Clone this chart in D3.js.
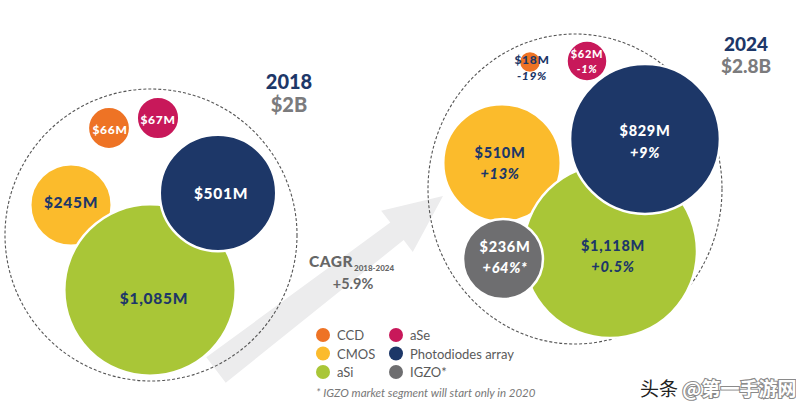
<!DOCTYPE html>
<html><head><meta charset="utf-8">
<script src="https://cdn.jsdelivr.net/npm/d3@7/dist/d3.min.js"></script>
<style>
html,body{margin:0;padding:0;background:#fff;}
svg{display:block;font-family:Lato,"Open Sans",sans-serif;}
</style></head>
<body>
<svg id="chart" width="796" height="409"></svg>
<script>
// ---------- DATA ----------
const categories = ["CCD", "aSe", "CMOS", "Photodiodes array", "aSi", "IGZO*"];
const values2018 = [66, 67, 245, 501, 1085, null];
const values2024 = [18, 62, 510, 829, 1118, 236];
const growth2024 = ["-19%", "-1%", "+13%", "+9%", "+0.5%", "+64%*"];
const years = ["2018", "2024"];
const totals = ["$2B", "$2.8B"];
const cagrLabel = "CAGR";
const cagrPeriod = "2018-2024";
const cagrValue = "+5.9%";
const footnote = "* IGZO market segment will start only in 2020";

// ---------- STYLE / LAYOUT ----------
const colors = ["#ee7325", "#c8185a", "#fbbb2c", "#1d3768", "#a9c637", "#6e6e70"];
const labelColors2018 = ["#fff", "#fff", "#1d3768", "#fff", "#1d3768", "#fff"];
const labelColors2024 = ["#1d3768", "#fff", "#1d3768", "#fff", "#1d3768", "#fff"];
const drawOrder = [0, 1, 2, 4, 3, 5];
const groups = [
  {cx: 151, cy: 235, rx: 146, ry: 146,
   off: [[-42,-107],[7,-117],[-80,-30],[67,-42],[-1,55],null],
   lab: [[1,1],[0,1],[0,-3],[3,0],[4,8],null],
   fs:  [12,12,15.5,15.5,15.5,15],
   title: {x: 289, y1: 89, y2: 112, fs: 20}},
  {cx: 575, cy: 189, rx: 147, ry: 155,
   off: [[-45,-127],[12,-128],[-73,-26],[70,-50],[35,62],[-72,70]],
   lab: [[2,5],[0,0],[-2,0],[0,2],[3,5],[2,-2]],
   fs:  [12,11,14.5,14.5,14.5,14.5],
   gap: [16,15,21,22,21,21],
   title: {x: 746, y1: 51, y2: 73, fs: 19}}
];

const svg = d3.select("#chart");
const r = d3.scaleSqrt().domain([0, d3.max(values2024)]).range([0, 87]);
const fmt = v => "$" + d3.format(",")(v) + "M";

// ---------- ARROW (behind) ----------
const tail = [216, 370], tip = [443, 196];
const ang = Math.atan2(tip[1] - tail[1], tip[0] - tail[0]);
const len = Math.hypot(tip[0] - tail[0], tip[1] - tail[1]);
const headLen = 58, bodyW0 = 16, bodyW1 = 11, headW = 26;
const local = [[0,-bodyW0],[len-headLen,-bodyW1],[len-headLen,-headW],[len,0],[len-headLen,headW],[len-headLen,bodyW1],[0,bodyW0]];
const pts = local.map(([u,v]) => [tail[0] + u*Math.cos(ang) - v*Math.sin(ang), tail[1] + u*Math.sin(ang) + v*Math.cos(ang)]);
svg.append("path").attr("d", d3.line()(pts) + "Z").attr("fill", "#ececed");

// ---------- GROUPS ----------
const valueSets = [values2018, values2024];
groups.forEach((g, gi) => {
  const vals = valueSets[gi];
  svg.append("ellipse").attr("cx", g.cx).attr("cy", g.cy).attr("rx", g.rx).attr("ry", g.ry)
    .attr("fill", "none").attr("stroke", "#555").attr("stroke-width", 1.1).attr("stroke-dasharray", "3,2");

  const items = drawOrder.filter(i => vals[i] != null).map(i => ({
    i, v: vals[i], x: g.cx + g.off[i][0], y: g.cy + g.off[i][1]
  }));
  const gg = svg.append("g");
  gg.selectAll("circle").data(items).join("circle")
    .attr("cx", d => d.x).attr("cy", d => d.y).attr("r", d => r(d.v))
    .attr("fill", d => colors[d.i]).attr("stroke", "#fff").attr("stroke-width", 2.5);

  const lc = gi === 0 ? labelColors2018 : labelColors2024;
  items.forEach(d => {
    const lx = d.x + g.lab[d.i][0], ly = d.y + g.lab[d.i][1];
    const t = svg.append("text").attr("text-anchor", "middle").attr("fill", lc[d.i])
      .attr("font-weight", 900).attr("font-size", g.fs[d.i]).attr("letter-spacing", 0.7);
    if (gi === 0) {
      t.attr("x", lx).attr("y", ly).attr("dominant-baseline", "central").text(fmt(d.v));
    } else {
      const gap = g.gap[d.i];
      t.append("tspan").attr("x", lx).attr("y", ly - gap/2).attr("dominant-baseline", "central").text(fmt(d.v));
      t.append("tspan").attr("x", lx).attr("y", ly + gap/2).attr("dominant-baseline", "central")
        .attr("font-style", "italic").text(growth2024[d.i]);
    }
  });

  svg.append("text").attr("x", g.title.x).attr("y", g.title.y1).attr("text-anchor", "middle")
    .attr("font-weight", 900).attr("font-size", g.title.fs).attr("fill", "#1d3768").text(years[gi]);
  svg.append("text").attr("x", g.title.x).attr("y", g.title.y2).attr("text-anchor", "middle")
    .attr("font-weight", 900).attr("font-size", g.title.fs).attr("fill", "#7b7b7d").text(totals[gi]);
});

// ---------- CAGR ----------
const cg = svg.append("text").attr("x", 309).attr("y", 267).attr("fill", "#666").attr("font-weight", 900);
cg.append("tspan").attr("font-size", 15.5).attr("letter-spacing", 0.5).text(cagrLabel);
cg.append("tspan").attr("font-size", 8).attr("dy", 4).attr("dx", 1).text(cagrPeriod);
svg.append("text").attr("x", 353).attr("y", 289).attr("text-anchor", "middle").attr("fill", "#666")
  .attr("font-weight", 700).attr("font-size", 14.5).text(cagrValue);

// ---------- LEGEND ----------
const legendCols = [[0, 2, 4], [1, 3, 5]];
const colX = d3.scalePoint().domain([0, 1]).range([323, 396]);
const rowY = d3.scalePoint().domain([0, 1, 2]).range([335, 372]);
legendCols.forEach((col, ci) => {
  col.forEach((idx, ri) => {
    svg.append("circle").attr("cx", colX(ci)).attr("cy", rowY(ri)).attr("r", 7).attr("fill", colors[idx]);
    svg.append("text").attr("x", colX(ci) + 14).attr("y", rowY(ri)).attr("dominant-baseline", "central")
      .attr("font-size", 13).attr("fill", "#5a5a5a").text(categories[idx]);
  });
});
svg.append("text").attr("x", 316).attr("y", 397).attr("font-size", 11.5).attr("font-style", "italic")
  .attr("fill", "#777").text(footnote);

// ---------- WATERMARK ----------
const wm = svg.append("text").attr("x", 640).attr("y", 396).attr("font-family", "'Noto Sans CJK SC',sans-serif")
  .attr("font-size", 19);
wm.append("tspan").attr("fill", "#222").text("头条 ");
wm.append("tspan").attr("fill", "#fff").attr("stroke", "#8a8a8a").attr("stroke-width", 2.2)
  .attr("paint-order", "stroke").attr("font-weight", 700).text("@第一手游网");
</script>
</body></html>
